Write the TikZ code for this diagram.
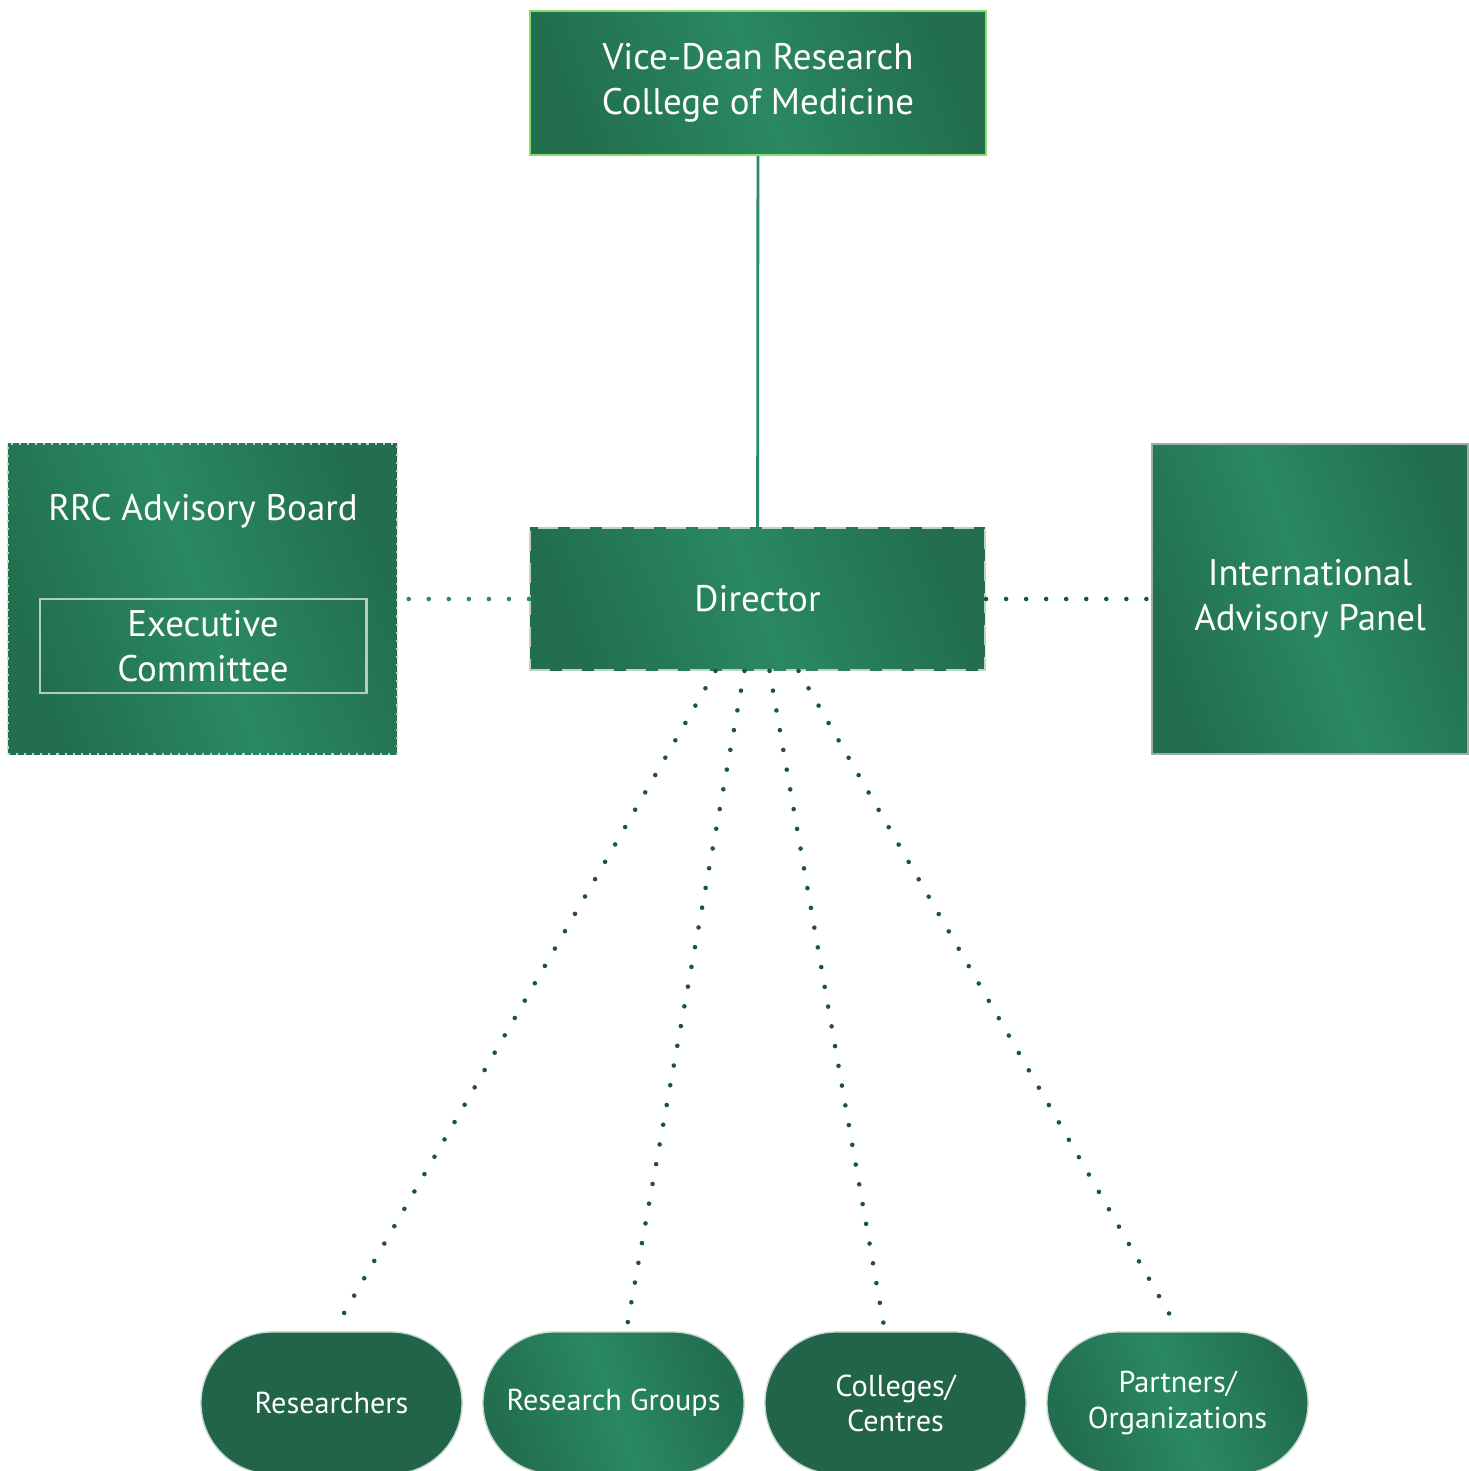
\documentclass[tikz,border=0pt]{standalone}
\usepackage{fontspec}
\setmainfont{PT Sans}
\usepackage{tikz}
\usetikzlibrary{calc,positioning,shapes.misc}

\definecolor{gdark}{HTML}{226E4E}
\definecolor{glight}{HTML}{2A8863}
\definecolor{gdeep}{HTML}{21644A}
\definecolor{dotgreen}{HTML}{1E5631}
\definecolor{lineteal}{HTML}{2A8A66}

\tikzset{
  box/.style={rectangle, inner sep=0pt, text=white, align=center,
    left color=gdark, right color=gdark, middle color=glight, shading angle=110,
    font=\fontsize{10.5}{12.8}\selectfont},
  pill/.style={rounded rectangle, inner sep=0pt, minimum width=2.61cm,
    minimum height=1.42cm, text=white, align=center, draw=white!75!gdeep,
    line width=0.4pt, font=\fontsize{8.6}{10}\selectfont},
  dotline/.style={dotgreen, line width=1.3pt, line cap=round,
    dash pattern=on 0pt off 5.7pt},
}

\begin{document}
\begin{tikzpicture}[x=0.01cm, y=-0.01cm]

  \useasboundingbox (0,0) rectangle (1468,1471);

  \node [box, minimum width=4.56cm, minimum height=1.44cm,
    draw=green!55!olive!60!white, line width=0.6pt] (vdr) at (758,83)
    {Vice-Dean Research\\College of Medicine};

  \node [box, minimum width=4.55cm, minimum height=1.42cm,
    draw=white!70!gdark, line width=0.5pt, dash pattern=on 5.7pt off 3.4pt]
    (dir) at (757.5,599) {Director};

  \node [box, minimum width=3.89cm, minimum height=3.10cm,
    draw=white!70!gdark, line width=0.5pt, dash pattern=on 0.6pt off 1.7pt]
    (rrc) at (202.5,599) {};

  \node [text=white, font=\fontsize{10.5}{12.8}\selectfont] (rrct) at (203,511)
    {RRC Advisory Board};

  \node [rectangle, draw=white!65!gdark, line width=0.8pt, minimum width=3.26cm,
    minimum height=0.94cm, inner sep=0pt, text=white, align=center,
    font=\fontsize{10.5}{12.8}\selectfont] (exec) at (203,646)
    {Executive\\Committee};

  \node [box, minimum width=3.16cm, minimum height=3.10cm,
    draw=gray!60!gdark!60!white, line width=0.5pt] (iap) at (1310,599)
    {International\\Advisory Panel};

  \node [pill, fill=gdeep] (res) at (331.5,1403) {Researchers};
  \node [pill, left color=gdark, right color=gdark, middle color=glight,
    shading angle=110] (grp) at (613.5,1403) {Research Groups};
  \node [pill, fill=gdeep] (col) at (895.5,1403) {Colleges/\\Centres};
  \node [pill, left color=gdark, right color=gdark, middle color=glight,
    shading angle=110] (prt) at (1177.5,1403) {Partners/\\Organizations};

  \path [lineteal, line width=0.8pt] (vdr) edge (dir) ;

  \path [dotline, lineteal] (dir.west) edge (rrc.east) ;

  \path [dotline] (dir.east) edge (iap.west) ;

  \path [dotline] ([xshift=-0.42cm]dir.south) edge ([xshift=0.09cm, yshift=0.12cm]res.north) ;

  \path [dotline] ([xshift=-0.13cm]dir.south) edge ([xshift=0.13cm, yshift=0.02cm]grp.north) ;

  \path [dotline] ([xshift=0.12cm]dir.south) edge ([xshift=-0.11cm, yshift=0.02cm]col.north) ;

  \path [dotline] ([xshift=0.41cm]dir.south) edge ([xshift=-0.04cm, yshift=0.10cm]prt.north) ;

\end{tikzpicture}
\end{document}
